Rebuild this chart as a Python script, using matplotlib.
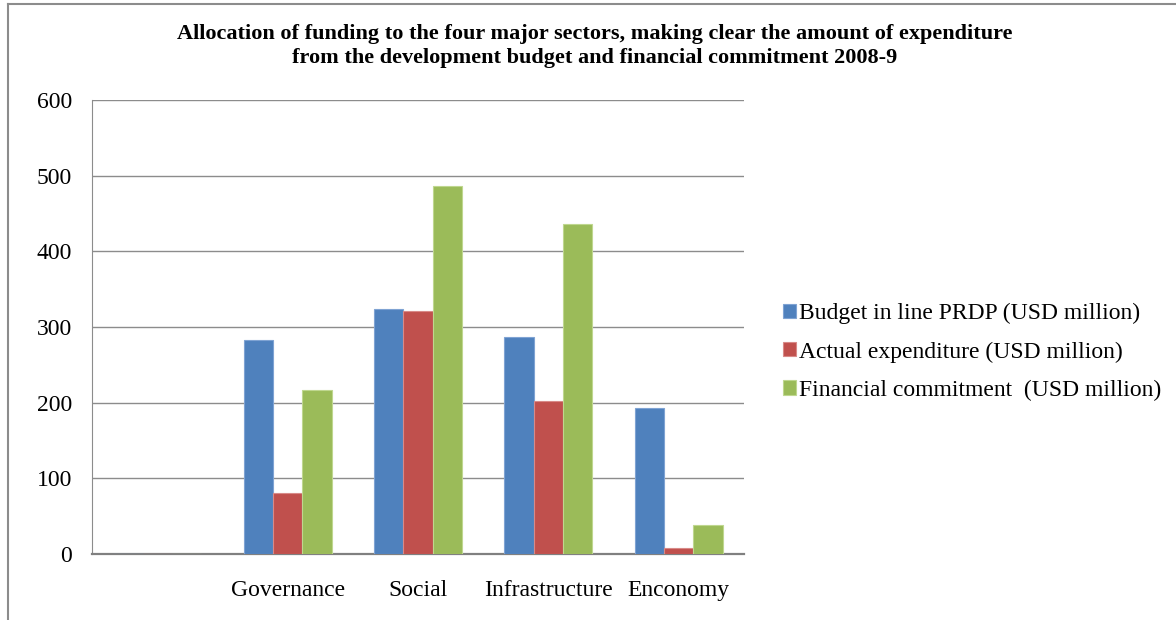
import matplotlib
matplotlib.use("Agg")
import matplotlib.pyplot as plt
import numpy as np
from matplotlib.lines import Line2D

plt.rcParams['font.family'] = ['Liberation Serif', 'DejaVu Serif']

categories = ["", "Governance", "Social", "Infrastructure", "Enconomy"]
series_names = [
    "Budget in line PRDP (USD million)",
    "Actual expenditure (USD million)",
    "Financial commitment  (USD million)",
]
budget = [0, 283, 324, 287, 193]
actual = [0, 80, 321, 202, 8]
commitment = [0, 217, 486, 436, 38]
yticks = [0, 100, 200, 300, 400, 500, 600]

colors = ["#4f81bd", "#c0504d", "#9bbb59"]
edges = ["#7fa3d3", "#d88a88", "#bfd78f"]

fig = plt.figure(figsize=(11.76, 6.2), dpi=100)
ax = fig.add_axes([92 / 1176, 1 - 554 / 620, (744 - 92) / 1176, (554 - 100) / 620])

x = np.arange(len(categories))
width = 0.225
for i, (vals, c, ec, name) in enumerate(zip([budget, actual, commitment], colors, edges, series_names)):
    ax.bar(x + (i - 1) * width, vals, width, color=c, edgecolor=ec, linewidth=0.8,
           label=name, zorder=3)

ax.set_xlim(-0.5, len(categories) - 0.5)
ax.set_ylim(0, 600)
ax.set_yticks(yticks)
ax.set_yticklabels([str(v) for v in yticks], fontsize=17)
ax.set_xticks(x)
ax.set_xticklabels(categories, fontsize=17)
ax.tick_params(axis='x', length=0, pad=19)
ax.tick_params(axis='y', length=0, pad=14.5)
ax.yaxis.grid(True, color="#8c8c8c", linewidth=1.0, zorder=0)
ax.set_axisbelow(True)
for side in ["top", "right"]:
    ax.spines[side].set_visible(False)
ax.spines["left"].set_color("#8c8c8c")
ax.spines["bottom"].set_color("#808080")
ax.spines["bottom"].set_linewidth(1.6)

fig.text(595 / 1176, 1 - 34 / 620,
         "Allocation of funding to the four major sectors, making clear the amount of expenditure",
         ha="center", va="center", fontsize=16, fontweight="bold")
fig.text(595 / 1176, 1 - 58 / 620,
         "from the development budget and financial commitment 2008-9",
         ha="center", va="center", fontsize=16, fontweight="bold")

leg = ax.legend(loc="center left", bbox_to_anchor=(771 / 1176, 1 - 352 / 620),
                bbox_transform=fig.transFigure, frameon=False, fontsize=17,
                handlelength=0.55, handleheight=0.55, handletextpad=0.15, labelspacing=0.72,
                borderpad=0)

# outer chart frame
fig.add_artist(Line2D([8 / 1176, 8 / 1176], [0, 1 - 4 / 620], transform=fig.transFigure,
                      color="#8c8c8c", linewidth=1.5))
fig.add_artist(Line2D([8 / 1176, 1], [1 - 4 / 620, 1 - 4 / 620], transform=fig.transFigure,
                      color="#8c8c8c", linewidth=1.5))

fig.savefig("out.png", dpi=100, facecolor="white")
